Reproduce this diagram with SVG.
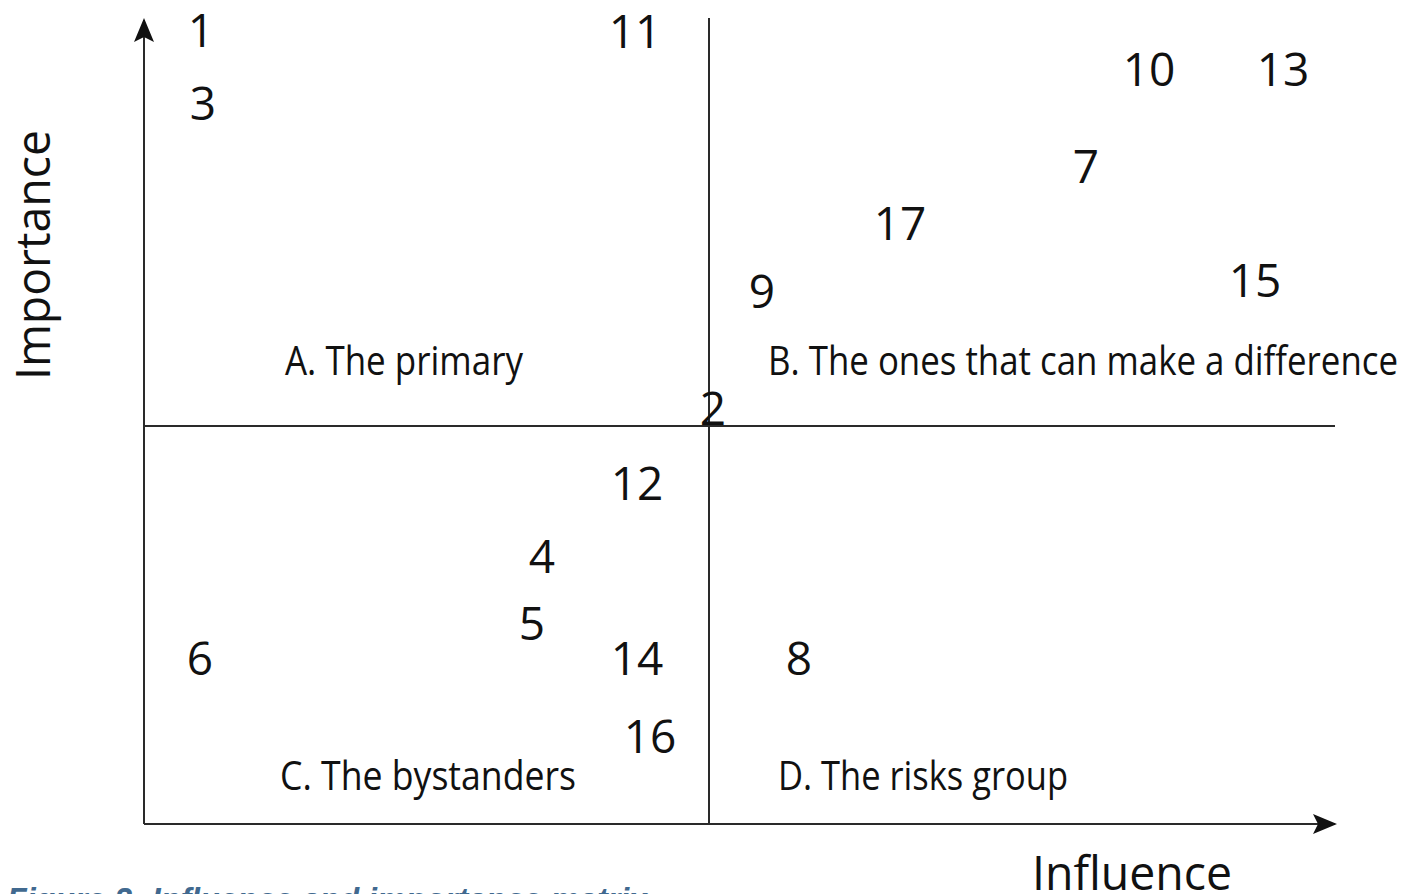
<svg xmlns="http://www.w3.org/2000/svg" width="1419" height="894" viewBox="0 0 1419 894">
<style>
.ax{stroke:#2a2a2a;stroke-width:2;fill:none}
.num{font-family:"Open Sans","Noto Sans",sans-serif;font-size:46px;fill:#111;text-anchor:middle}
.lab{font-family:"Open Sans","Noto Sans",sans-serif;font-size:40px;fill:#111}
.axl{font-family:"Open Sans","Noto Sans",sans-serif;font-size:48px;fill:#111}
.cap{font-family:"Liberation Sans",Arial,sans-serif;font-size:34px;font-weight:bold;font-style:italic;fill:#41698f}
</style>
<defs>
<marker id="ah" viewBox="0 0 24 20" refX="22" refY="10" markerWidth="24" markerHeight="20" markerUnits="userSpaceOnUse" orient="auto">
<path d="M0,0 L24,10 L0,20 L5,10 Z" fill="#111"/>
</marker>
</defs>
<rect width="1419" height="894" fill="#fff"/>
<g id="connectors">
<line class="ax" x1="144" y1="824" x2="144" y2="20" marker-end="url(#ah)"/>
<line class="ax" x1="144" y1="824" x2="1335" y2="824" marker-end="url(#ah)"/>
<line class="ax" x1="709" y1="18" x2="709" y2="824"/>
<line class="ax" x1="144" y1="426" x2="1335" y2="426"/>
</g>
<g id="axis-labels">
<text id="importance" class="axl" transform="translate(50,380) rotate(-90)" textLength="250" lengthAdjust="spacingAndGlyphs">Importance</text>
<text id="influence" class="axl" x="1032" y="890" textLength="200" lengthAdjust="spacingAndGlyphs">Influence</text>
</g>
<g id="quadrants">
<text id="qA" class="lab" x="285" y="375" textLength="238" lengthAdjust="spacingAndGlyphs">A. The primary</text>
<text id="qB" class="lab" x="768" y="375" textLength="630" lengthAdjust="spacingAndGlyphs">B. The ones that can make a difference</text>
<text id="qC" class="lab" x="280" y="790" textLength="296" lengthAdjust="spacingAndGlyphs">C. The bystanders</text>
<text id="qD" class="lab" x="778" y="790" textLength="290" lengthAdjust="spacingAndGlyphs">D. The risks group</text>
</g>
<g id="n1"><text class="num" x="201" y="47">1</text></g>
<g id="n11"><text class="num" x="635" y="48">11</text></g>
<g id="n3"><text class="num" x="203" y="120">3</text></g>
<g id="n10"><text class="num" x="1149" y="86">10</text></g>
<g id="n13"><text class="num" x="1283" y="86">13</text></g>
<g id="n7"><text class="num" x="1086" y="183">7</text></g>
<g id="n17"><text class="num" x="900" y="240">17</text></g>
<g id="n15"><text class="num" x="1255" y="297">15</text></g>
<g id="n9"><text class="num" x="762" y="308">9</text></g>
<g id="n2"><text class="num" x="713" y="425">2</text></g>
<g id="n12"><text class="num" x="637" y="500">12</text></g>
<g id="n4"><text class="num" x="542" y="573">4</text></g>
<g id="n5"><text class="num" x="532" y="640">5</text></g>
<g id="n6"><text class="num" x="200" y="675">6</text></g>
<g id="n14"><text class="num" x="637" y="675">14</text></g>
<g id="n8"><text class="num" x="799" y="675">8</text></g>
<g id="n16"><text class="num" x="650" y="753">16</text></g>
<text id="caption" class="cap" x="7" y="911" textLength="640" lengthAdjust="spacingAndGlyphs">Figure 2: Influence and importance matrix</text>
</svg>
